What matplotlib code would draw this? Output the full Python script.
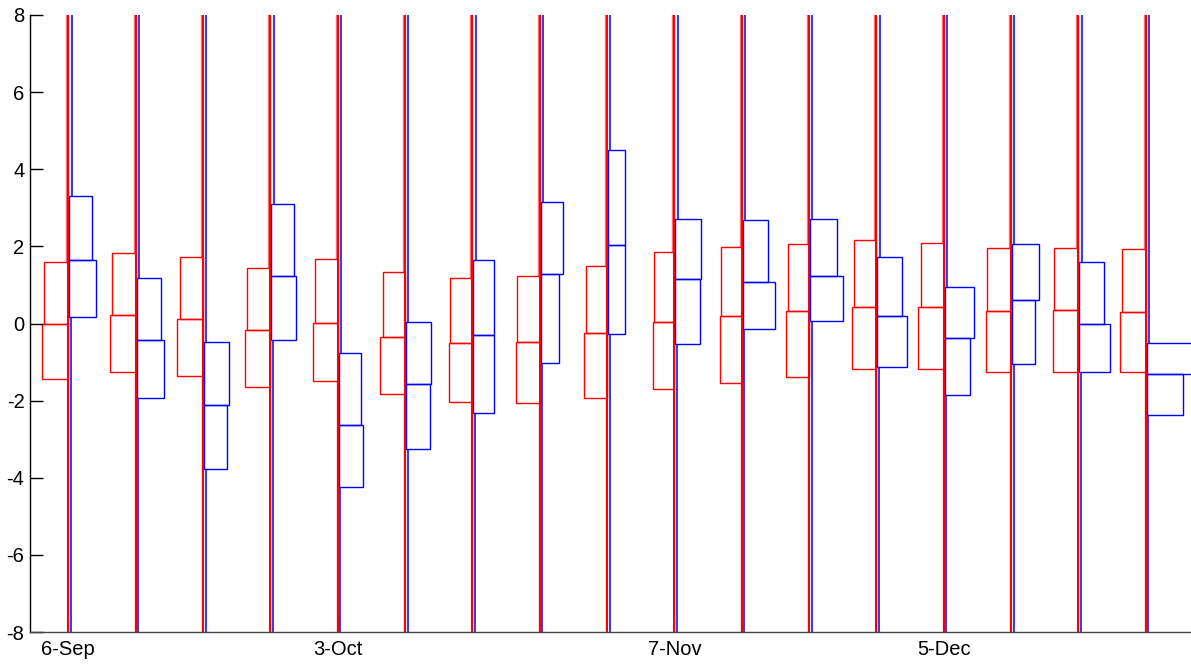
import numpy as np
import matplotlib
matplotlib.use('Agg')
import matplotlib.pyplot as plt

plt.rcParams['font.family'] = ['Liberation Sans', 'DejaVu Sans']
plt.rcParams['axes.unicode_minus'] = False

# weekly groups, only some carry a date label
n_groups = 17
tick_idx = [0, 4, 9, 13]
tick_labels = ['6-Sep', '3-Oct', '7-Nov', '5-Dec']

# red series: upper quartile, median, lower quartile
red_q3 = [1.60, 1.84, 1.73, 1.45, 1.68, 1.34, 1.18, 1.24, 1.50, 1.86, 1.99, 2.06, 2.17, 2.10, 1.97, 1.97, 1.93]
red_med = [0.00, 0.22, 0.12, -0.17, 0.02, -0.34, -0.50, -0.47, -0.24, 0.05, 0.19, 0.32, 0.42, 0.42, 0.32, 0.35, 0.29]
red_q1 = [-1.45, -1.25, -1.35, -1.65, -1.48, -1.84, -2.04, -2.07, -1.94, -1.71, -1.55, -1.39, -1.19, -1.19, -1.25, -1.25, -1.25]

# blue series: upper quartile, median, lower quartile
blue_q3 = [3.31, 1.17, -0.47, 3.09, -0.77, 0.05, 1.64, 3.15, 4.49, 2.72, 2.68, 2.72, 1.73, 0.95, 2.07, 1.60, -0.50]
blue_med = [1.65, -0.44, -2.11, 1.24, -2.63, -1.58, -0.30, 1.28, 2.03, 1.15, 1.08, 1.24, 0.19, -0.37, 0.62, 0.00, -1.32]
blue_q1 = [0.16, -1.94, -3.78, -0.43, -4.25, -3.26, -2.31, -1.02, -0.26, -0.52, -0.13, 0.06, -1.13, -1.85, -1.06, -1.25, -2.37]

# half-box widths (vary per group)
red_up_w = [0.356, 0.346, 0.347, 0.352, 0.331, 0.327, 0.333, 0.337, 0.312, 0.297, 0.312, 0.316, 0.331, 0.337, 0.356, 0.356, 0.356]
red_lo_w = [0.386, 0.386, 0.386, 0.371, 0.371, 0.371, 0.347, 0.352, 0.337, 0.316, 0.318, 0.342, 0.356, 0.376, 0.367, 0.371, 0.377]
blue_up_w = [0.342, 0.367, 0.365, 0.331, 0.327, 0.371, 0.306, 0.327, 0.252, 0.382, 0.380, 0.396, 0.362, 0.435, 0.401, 0.362, 1.0]
blue_lo_w = [0.401, 0.407, 0.342, 0.361, 0.367, 0.352, 0.306, 0.267, 0.252, 0.367, 0.480, 0.490, 0.445, 0.376, 0.342, 0.460, 0.535]

x = np.arange(n_groups)
red_q3, red_med, red_q1 = map(np.array, (red_q3, red_med, red_q1))
blue_q3, blue_med, blue_q1 = map(np.array, (blue_q3, blue_med, blue_q1))

fig = plt.figure(figsize=(11.91, 6.64), dpi=100)
ax = fig.add_axes([30 / 1191, 32 / 664, 1 - 30 / 1191, 617 / 664])

# red boxes, hanging to the left of the centre line
ax.bar(x, red_q3 - red_med, width=-np.array(red_up_w), bottom=red_med, align='edge',
       fill=False, edgecolor='red', linewidth=1.0)
ax.bar(x, red_med - red_q1, width=-np.array(red_lo_w), bottom=red_q1, align='edge',
       fill=False, edgecolor='red', linewidth=1.0)

# blue boxes, to the right
ax.bar(x + 0.015, blue_q3 - blue_med, width=blue_up_w, bottom=blue_med, align='edge',
       fill=False, edgecolor='blue', linewidth=1.0)
ax.bar(x + 0.015, blue_med - blue_q1, width=blue_lo_w, bottom=blue_q1, align='edge',
       fill=False, edgecolor='blue', linewidth=1.0)

# whiskers run off the plot
ax.vlines(x, -20, 20, color='red', linewidth=1.5)
ax.vlines(x - 0.03, red_q3, 20, color='red', linewidth=1.0, alpha=0.55)
ax.vlines(x - 0.01, -20, red_q1, color='red', linewidth=1.0, alpha=0.55)
ax.vlines(x + 0.05, blue_q3, 20, color='blue', linewidth=1.1)
ax.vlines(x + 0.04, -20, blue_q1, color='blue', linewidth=1.1)

ax.set_xlim(-0.569, 16.672)
ax.set_ylim(-8, 8)
ax.set_yticks(range(-8, 9, 2))
ax.set_xticks(tick_idx)
ax.set_xticklabels(tick_labels)

for s in ['top', 'right']:
    ax.spines[s].set_visible(False)
ax.spines['left'].set_linewidth(1.0)
ax.spines['bottom'].set_linewidth(1.0)
ax.spines['bottom'].set_color('#444444')
ax.tick_params(axis='both', direction='in', length=9, width=1.0, labelsize=14.5)
ax.tick_params(axis='y', pad=4)
ax.tick_params(axis='x', pad=6, color='#777777')

fig.savefig('out.png', dpi=100)
